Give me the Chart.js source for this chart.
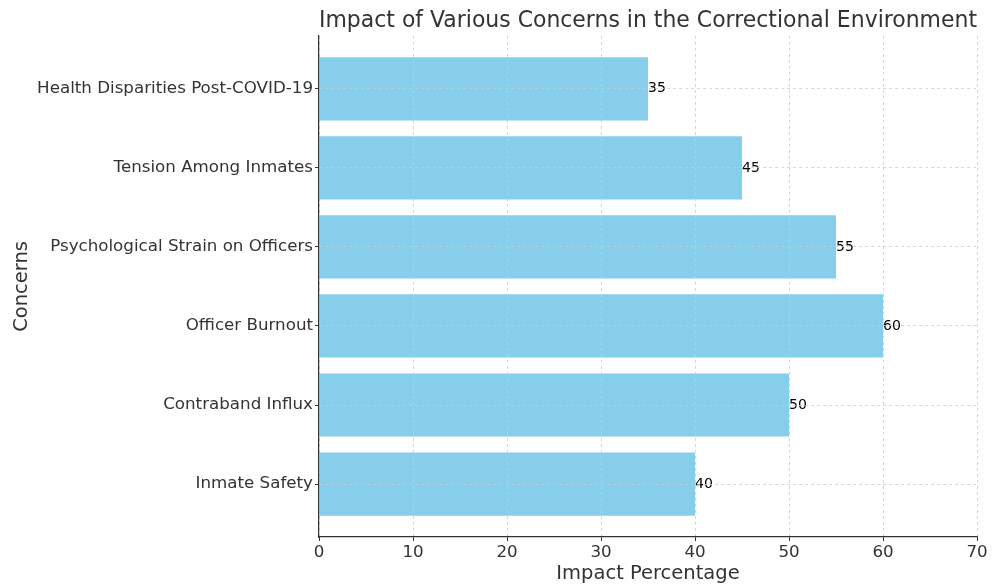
<!DOCTYPE html>
<html>
<head>
<meta charset="utf-8">
<script src="https://cdn.jsdelivr.net/npm/chart.js@4.4.0/dist/chart.umd.min.js"></script>
<style>
  html, body { margin: 0; padding: 0; background: #ffffff; }
  #wrap { width: 992px; height: 586px; position: relative; }
</style>
</head>
<body>
<div id="wrap"><canvas id="chart" width="992" height="586"></canvas></div>
<script>
// Concerns listed bottom-to-top, with their impact percentages
const concerns = [
  'Inmate Safety',
  'Contraband Influx',
  'Officer Burnout',
  'Psychological Strain on Officers',
  'Tension Among Inmates',
  'Health Disparities Post-COVID-19'
];
const impactValues = [40, 50, 60, 55, 45, 35];
const xTickValues = [0, 10, 20, 30, 40, 50, 60, 70];

const FONT = "'DejaVu Sans', sans-serif";
const TEXT = '#333333';

// Writes each bar's value just past its end
const valueLabels = {
  id: 'valueLabels',
  afterDatasetsDraw(chart) {
    const ctx = chart.ctx;
    const meta = chart.getDatasetMeta(0);
    ctx.save();
    ctx.font = '14px ' + FONT;
    ctx.fillStyle = '#000000';
    ctx.textAlign = 'left';
    ctx.textBaseline = 'middle';
    meta.data.forEach((bar, i) => {
      ctx.fillText(String(impactValues[i]), bar.x, bar.y);
    });
    ctx.restore();
  }
};

const gridOpts = {
  color: '#cccccc',
  lineWidth: 0.8,
  offset: false,
  z: 1,
  drawTicks: true,
  tickLength: 4,
  tickColor: '#333333',
  tickWidth: 1,
  tickBorderDash: []
};

// Axis line is solid; dash here applies to the grid lines
const borderOpts = { display: true, color: '#333333', width: 1.2, dash: [3, 3], z: 2 };

new Chart(document.getElementById('chart'), {
  type: 'bar',
  data: {
    datasets: [{
      data: impactValues.map((v, i) => ({ x: v, y: i })),
      backgroundColor: '#87CEEB',
      borderWidth: 0,
      barPercentage: 0.8,
      categoryPercentage: 1.0
    }]
  },
  options: {
    indexAxis: 'y',
    responsive: false,
    animation: false,
    layout: { padding: { left: 0, right: 15, top: 0, bottom: 0 } },
    plugins: {
      legend: { display: false },
      tooltip: { enabled: false },
      title: {
        display: true,
        text: 'Impact of Various Concerns in the Correctional Environment',
        fullSize: false,
        color: TEXT,
        font: { family: FONT, size: 22.4, weight: 'normal' },
        padding: { top: 8, bottom: 1 }
      }
    },
    scales: {
      x: {
        type: 'linear',
        min: 0,
        max: 70,
        offset: false,
        afterBuildTicks(scale) {
          scale.ticks = xTickValues.map(v => ({ value: v }));
        },
        afterFit(scale) { scale.height = 49; },
        ticks: {
          color: TEXT,
          font: { family: FONT, size: 16.7 },
          padding: 2,
          maxRotation: 0
        },
        grid: Object.assign({}, gridOpts),
        border: Object.assign({}, borderOpts),
        title: {
          display: true,
          text: 'Impact Percentage',
          color: TEXT,
          font: { family: FONT, size: 19.5 },
          padding: { top: 0, bottom: 0 }
        }
      },
      y: {
        type: 'linear',
        min: -0.67,
        max: 5.67,
        offset: false,
        afterBuildTicks(scale) {
          scale.ticks = concerns.map((_, i) => ({ value: i }));
        },
        afterFit(scale) { scale.width = 319; },
        ticks: {
          color: TEXT,
          font: { family: FONT, size: 16.7 },
          padding: 2,
          callback: (value) => concerns[value]
        },
        grid: Object.assign({}, gridOpts),
        border: Object.assign({}, borderOpts),
        title: {
          display: true,
          text: 'Concerns',
          color: TEXT,
          font: { family: FONT, size: 19.5 },
          padding: { top: 10, bottom: 0 }
        }
      }
    }
  },
  plugins: [valueLabels]
});
</script>
</body>
</html>
